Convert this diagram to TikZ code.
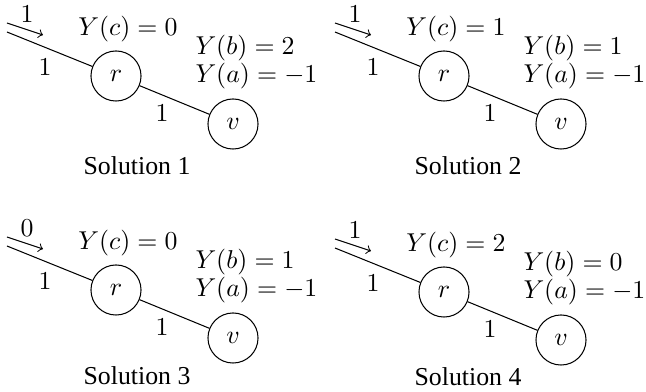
\documentclass[tikz,border=0pt]{standalone}
\usepackage[no-math]{fontspec}
\setmainfont{Liberation Serif}
\begin{document}
\begin{tikzpicture}[x=0.3875pt,y=-0.3875pt,
  vert/.style={draw,circle,minimum size=19.4pt,inner sep=0pt},
  lbl/.style={inner sep=0pt},
  soltext/.style={inner sep=0pt,font=\rmfamily}]
\useasboundingbox (0,0) rectangle (646,392);
\newcommand\solpanel[9]{%
  \begin{scope}[shift={(#1,#2)}]
    \node[vert] (r#3) at (116,76) {$r$};
    \node[vert] (v#3) at (233,124) {$v$};
    \coordinate (s#3) at (7,32);
    \coordinate (a#3) at (7,23);
    \coordinate (b#3) at (43,35);
    \draw (s#3) -- (r#3);
    \draw (r#3) -- (v#3);
    \draw[->] (a#3) -- (b#3);
    \node[lbl] (t#3) at (27,14) {$#4$};
    \node[lbl] (e#3) at (45,67) {$1$};
    \node[lbl] (f#3) at (162,113) {$1$};
    \node[lbl] (yc#3) at (128,29) {$Y(c)=#5$};
    \node[lbl,anchor=west] (yb#3) at (195,48) {$Y(b)=#6$};
    \node[lbl,anchor=west] (ya#3) at (195,76) {$Y(a)=-1$};
    \node[soltext] (sol#3) at (#8,#9) {Solution #7};
  \end{scope}}
\solpanel{0}{0}{1}{1}{0}{2}{1}{137}{166}
\solpanel{328}{0}{2}{1}{1}{1}{2}{140}{166}
\solpanel{0}{214}{3}{0}{0}{1}{3}{137}{162}
\solpanel{328}{216}{4}{1}{2}{0}{4}{140}{161}
\end{tikzpicture}
\end{document}
